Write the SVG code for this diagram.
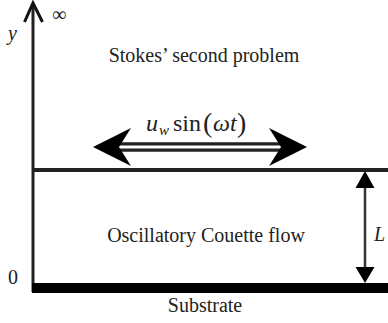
<svg xmlns="http://www.w3.org/2000/svg" width="388" height="323" viewBox="0 0 388 323">
<style>
.t{font-family:"Liberation Serif","Times New Roman",serif;font-size:20px;fill:#222}
.i{font-style:italic}
</style>
<rect width="388" height="323" fill="#fff"/>
<g id="axis">
<line x1="33" y1="4" x2="33" y2="292" stroke="#222" stroke-width="3"/>
<polyline points="24.5,22 33,3 42.5,22" fill="none" stroke="#111" stroke-width="3"/>
<text class="t" x="52" y="21" font-size="20">∞</text>
<text class="t i" x="8" y="40" font-size="22">y</text>
<text class="t" x="8" y="284" font-size="21">0</text>
</g>
<g id="plate">
<rect x="33" y="168" width="355" height="4" fill="#222"/>
</g>
<g id="substrate">
<rect x="32" y="283" width="356" height="10" fill="#000"/>
<text class="t" x="205" y="312" text-anchor="middle">Substrate</text>
</g>
<g id="stokes">
<text class="t" x="204" y="62" text-anchor="middle">Stokes’ second problem</text>
</g>
<g id="couette">
<text class="t" x="206" y="242" text-anchor="middle">Oscillatory Couette flow</text>
</g>
<g id="connectors">
<g id="oscillation">
<line x1="118" y1="147" x2="282" y2="147" stroke="#222" stroke-width="9.5"/>
<line x1="116" y1="147" x2="284" y2="147" stroke="#fff" stroke-width="3"/>
<polygon points="93,147 131,128 119,147 131,166" fill="#000"/>
<polygon points="307,147 269,128 281,147 269,166" fill="#000"/>
<text class="t" y="131"><tspan class="i" x="146" font-size="24">u</tspan><tspan class="i" x="159" y="135" font-size="15">w</tspan><tspan x="173" y="131" font-size="24">sin</tspan><tspan x="203" y="132" font-size="28">(</tspan><tspan class="i" x="213" y="131" font-size="24">ωt</tspan><tspan x="237" y="132" font-size="28">)</tspan></text>
</g>
<g id="gap">
<line x1="365" y1="185" x2="365" y2="270" stroke="#333" stroke-width="2.5"/>
<polygon points="365,171 355.5,188 374.5,188" fill="#000"/>
<polygon points="365,283 355.5,267 374.5,267" fill="#000"/>
<text class="t i" x="374" y="241" font-size="22">L</text>
</g>
</g>
</svg>
